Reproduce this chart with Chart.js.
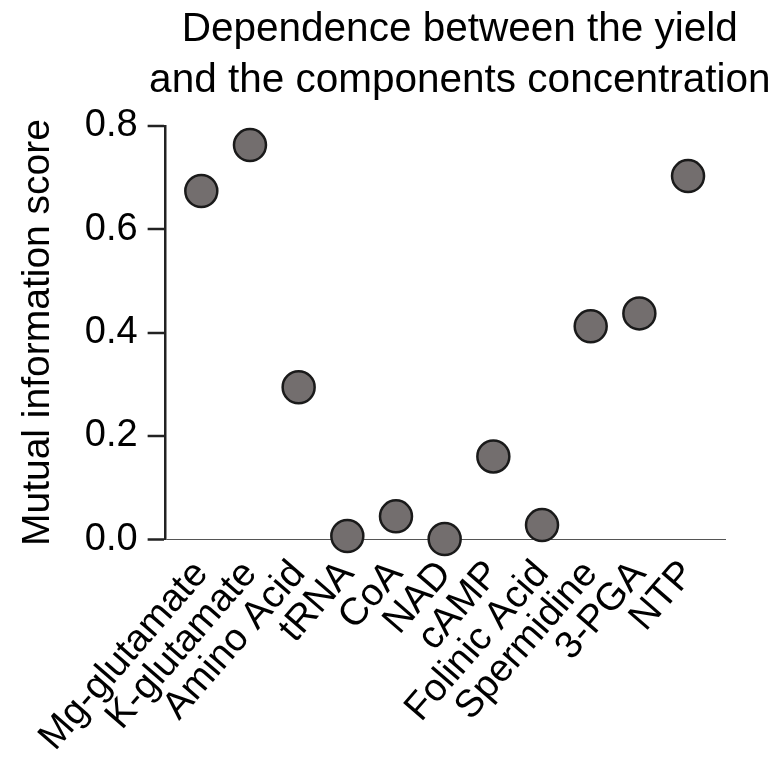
<!DOCTYPE html>
<html>
<head>
<meta charset="utf-8">
<script src="https://cdn.jsdelivr.net/npm/chart.js@4"></script>
<style>
  html, body { margin: 0; padding: 0; background: #fff; }
  #wrap { width: 768px; height: 763px; position: relative; }
</style>
</head>
<body>
<div id="wrap"><canvas id="c"></canvas></div>
<script>
const categories = ["Mg-glutamate", "K-glutamate", "Amino Acid", "tRNA", "CoA", "NAD", "cAMP", "Folinic Acid", "Spermidine", "3-PGA", "NTP"];
const scores = [0.674, 0.763, 0.294, 0.006, 0.044, 0.0, 0.160, 0.027, 0.412, 0.437, 0.703];
const yTicks = [0.0, 0.2, 0.4, 0.6, 0.8];
const titleLines = ["Dependence between the yield", "and the components concentration"];
const yTitle = "Mutual information score";

const FONT = "'Liberation Sans', Arial, Helvetica, sans-serif";

const titlePlugin = {
  id: 'customTitle',
  afterDraw(chart) {
    const ctx = chart.ctx;
    const ca = chart.chartArea;
    ctx.save();
    ctx.fillStyle = '#000';
    ctx.font = "40.5px " + FONT;
    ctx.textAlign = 'center';
    ctx.textBaseline = 'alphabetic';
    const cx = (ca.left + ca.right) / 2 + 14;
    titleLines.forEach((t, i) => ctx.fillText(t, cx, 41 + i * 51));
    ctx.restore();
  }
};

new Chart(document.getElementById('c'), {
  type: 'scatter',
  data: {
    datasets: [{
      data: scores.map((v, i) => ({ x: i, y: v })),
      pointRadius: 16,
      pointHoverRadius: 16,
      pointBackgroundColor: '#736e6e',
      pointBorderColor: '#1a1a1a',
      pointBorderWidth: 2.5,
      clip: false
    }]
  },
  options: {
    responsive: true,
    maintainAspectRatio: false,
    animation: false,
    events: [],
    layout: { padding: { top: 126, right: 42, bottom: -10, left: 15 } },
    plugins: { legend: { display: false }, tooltip: { enabled: false }, title: { display: false } },
    scales: {
      x: {
        type: 'linear',
        min: -0.733,
        max: 10.78,
        afterBuildTicks: (scale) => { scale.ticks = categories.map((_, i) => ({ value: i })); },
        ticks: {
          autoSkip: false,
          minRotation: 49,
          maxRotation: 49,
          padding: 13,
          color: '#000',
          font: { family: FONT, size: 38.5 },
          callback: (v) => categories[v]
        },
        grid: { display: false, drawTicks: false },
        border: { display: false }
      },
      y: {
        min: 0,
        max: 0.8,
        afterBuildTicks: (scale) => { scale.ticks = yTicks.map(v => ({ value: v })); },
        ticks: {
          padding: 10,
          color: '#000',
          font: { family: FONT, size: 38 },
          callback: (v) => v.toFixed(1)
        },
        grid: {
          drawOnChartArea: true,
          drawTicks: true,
          tickLength: 18,
          tickWidth: 2.5,
          tickColor: '#222',
          color: (c) => (c.tick && c.tick.value === 0) ? '#555' : 'rgba(0,0,0,0)',
          lineWidth: (c) => (c.tick && c.tick.value === 0) ? 1 : 0,
          borderDash: [1.5, 1.5]
        },
        border: { display: true, color: '#222', width: 2.5 },
        title: {
          display: true,
          text: yTitle,
          color: '#000',
          font: { family: FONT, size: 39 },
          padding: { top: 0, bottom: 13 }
        }
      }
    }
  },
  plugins: [titlePlugin]
});
</script>
</body>
</html>
